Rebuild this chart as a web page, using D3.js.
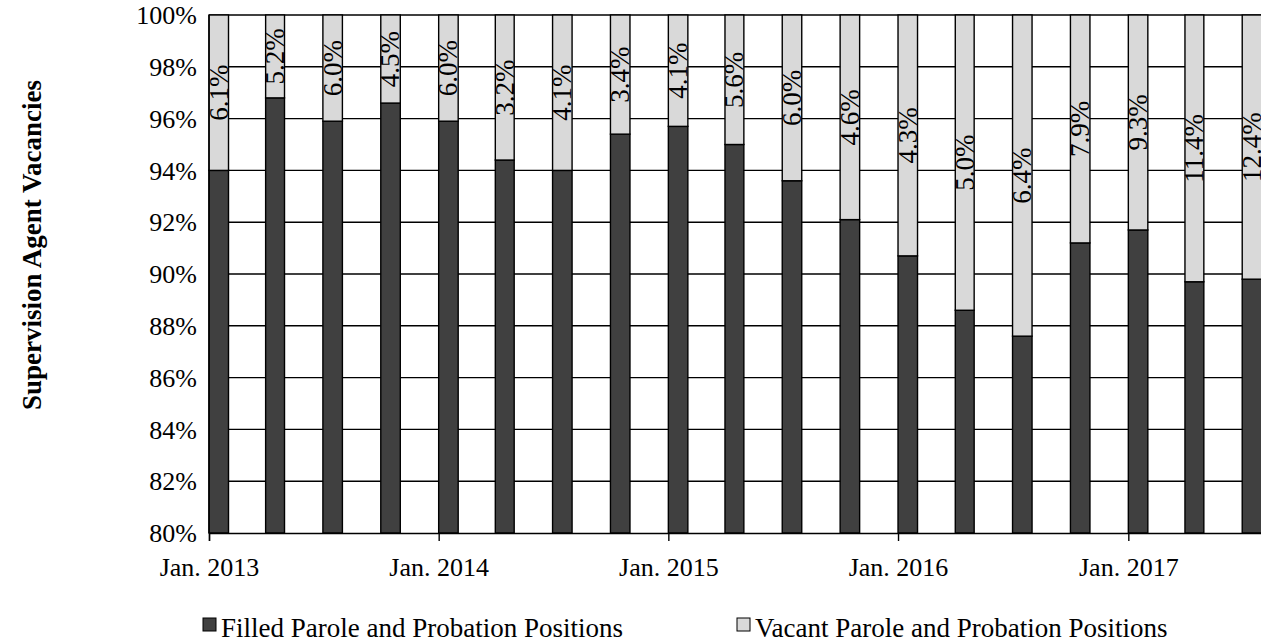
<!DOCTYPE html>
<html>
<head>
<meta charset="utf-8">
<script src="https://cdn.jsdelivr.net/npm/d3@7"></script>
<style>
  body { margin: 0; background: #fff; }
  svg { display: block; font-family: "Liberation Serif", "Times New Roman", serif; }
</style>
</head>
<body>
<script>
// quarterly data, Jan. 2013 - Jul. 2017
var quarters = ["2013-01", "2013-04", "2013-07", "2013-10",
                "2014-01", "2014-04", "2014-07", "2014-10",
                "2015-01", "2015-04", "2015-07", "2015-10",
                "2016-01", "2016-04", "2016-07", "2016-10",
                "2017-01", "2017-04", "2017-07"];
var filled = [94.0, 96.8, 95.9, 96.6, 95.9, 94.4, 94.0, 95.4, 95.7, 95.0,
              93.6, 92.1, 90.7, 88.6, 87.6, 91.2, 91.7, 89.7, 89.8];
var vacant = [6.0, 3.2, 4.1, 3.4, 4.1, 5.6, 6.0, 4.6, 4.3, 5.0,
              6.4, 7.9, 9.3, 11.4, 12.4, 8.8, 8.3, 10.3, 10.2];
// data labels as printed on the chart
var vacantLabels = ["6.1%", "5.2%", "6.0%", "4.5%", "6.0%", "3.2%", "4.1%", "3.4%", "4.1%", "5.6%",
                    "6.0%", "4.6%", "4.3%", "5.0%", "6.4%", "7.9%", "9.3%", "11.4%", "12.4%"];
var yTicks = [80, 82, 84, 86, 88, 90, 92, 94, 96, 98, 100];
var xTicks = ["2013-01", "2014-01", "2015-01", "2016-01", "2017-01"];
var seriesNames = ["Filled Parole and Probation Positions", "Vacant Parole and Probation Positions"];
var colors = ["#404040", "#d9d9d9"];

var W = 1261, H = 644;
var margin = {top: 15, left: 209, bottom: 111};
var plotH = H - margin.top - margin.bottom;

var parseQ = d3.utcParse("%Y-%m");
var data = quarters.map(function(q, i) {
    return {date: parseQ(q), filled: filled[i], vacant: vacant[i], label: vacantLabels[i]};
});

var svg = d3.select("body").append("svg")
    .attr("width", W)
    .attr("height", H);

// x: date axis, one month per bar slot
var x = d3.scaleUtc()
    .domain([parseQ("2013-01"), parseQ("2018-01")])
    .range([margin.left, margin.left + 5 * 229.8]);
var y = d3.scaleLinear()
    .domain([80, 100])
    .range([margin.top + plotH, margin.top])
    .clamp(true);

// gridlines
svg.append("g")
    .selectAll("line")
    .data(yTicks.slice(1))
    .enter().append("line")
    .attr("x1", margin.left)
    .attr("x2", W)
    .attr("y1", function(d) { return y(d); })
    .attr("y2", function(d) { return y(d); })
    .attr("stroke", "#000")
    .attr("stroke-width", 1.4);

// y tick labels
svg.append("g")
    .selectAll("text")
    .data(yTicks)
    .enter().append("text")
    .attr("x", margin.left - 12)
    .attr("y", function(d) { return y(d); })
    .attr("dy", "0.35em")
    .attr("text-anchor", "end")
    .style("font-size", "26px")
    .text(function(d) { return d + "%"; });

// stacked bars
var stack = d3.stack().keys(["filled", "vacant"]);
var layers = stack(data);

svg.append("g")
    .selectAll("g")
    .data(layers)
    .enter().append("g")
    .attr("fill", function(d, i) { return colors[i]; })
    .selectAll("rect")
    .data(function(d) { return d; })
    .enter().append("rect")
    .attr("x", function(d) { return x(d.data.date); })
    .attr("width", function(d) { return x(d3.utcMonth.offset(d.data.date, 1)) - x(d.data.date); })
    .attr("y", function(d) { return y(d[1]); })
    .attr("height", function(d) { return y(d[0]) - y(d[1]); })
    .attr("stroke", "#000")
    .attr("stroke-width", 1.4);

// x axis
var xAxis = svg.append("g")
    .attr("transform", "translate(0," + y(80) + ")")
    .call(d3.axisBottom(x)
        .tickValues(xTicks.map(parseQ))
        .tickSize(8)
        .tickPadding(17)
        .tickFormat(function(d) { return "Jan. " + d.getUTCFullYear(); }));
xAxis.select(".domain").attr("stroke-width", 1.4);
xAxis.selectAll("line").attr("stroke-width", 1.4);
xAxis.selectAll("text")
    .style("font-family", "Liberation Serif, Times New Roman, serif")
    .style("font-size", "26px")
    .attr("fill", "#000");

// left axis line
svg.append("line")
    .attr("x1", margin.left).attr("x2", margin.left)
    .attr("y1", y(100)).attr("y2", y(80))
    .attr("stroke", "#000")
    .attr("stroke-width", 1.4);

// data labels (rotated)
svg.append("g")
    .selectAll("text")
    .data(data)
    .enter().append("text")
    .attr("transform", function(d) {
        var cx = (x(d.date) + x(d3.utcMonth.offset(d.date, 1))) / 2;
        var cy = (y(d.filled) + y(100)) / 2;
        return "translate(" + cx + "," + cy + ") rotate(-90)";
    })
    .attr("dy", "0.33em")
    .attr("text-anchor", "middle")
    .style("font-size", "27px")
    .attr("fill", "#000")
    .text(function(d) { return d.label; });

// y axis title
svg.append("text")
    .attr("transform", "translate(41," + 245 + ") rotate(-90)")
    .attr("text-anchor", "middle")
    .style("font-size", "27px")
    .style("font-weight", "bold")
    .text("Supervision Agent Vacancies");

// legend
var legendX = [203, 737];
var legend = svg.append("g")
    .selectAll("g")
    .data(seriesNames)
    .enter().append("g")
    .attr("transform", function(d, i) { return "translate(" + legendX[i] + ",618)"; });
legend.append("rect")
    .attr("width", 13)
    .attr("height", 13)
    .attr("fill", function(d, i) { return colors[i]; })
    .attr("stroke", "#000")
    .attr("stroke-width", 1);
legend.append("text")
    .attr("x", 18)
    .attr("y", 19)
    .style("font-size", "27px")
    .text(function(d) { return d; });
</script>
</body>
</html>
